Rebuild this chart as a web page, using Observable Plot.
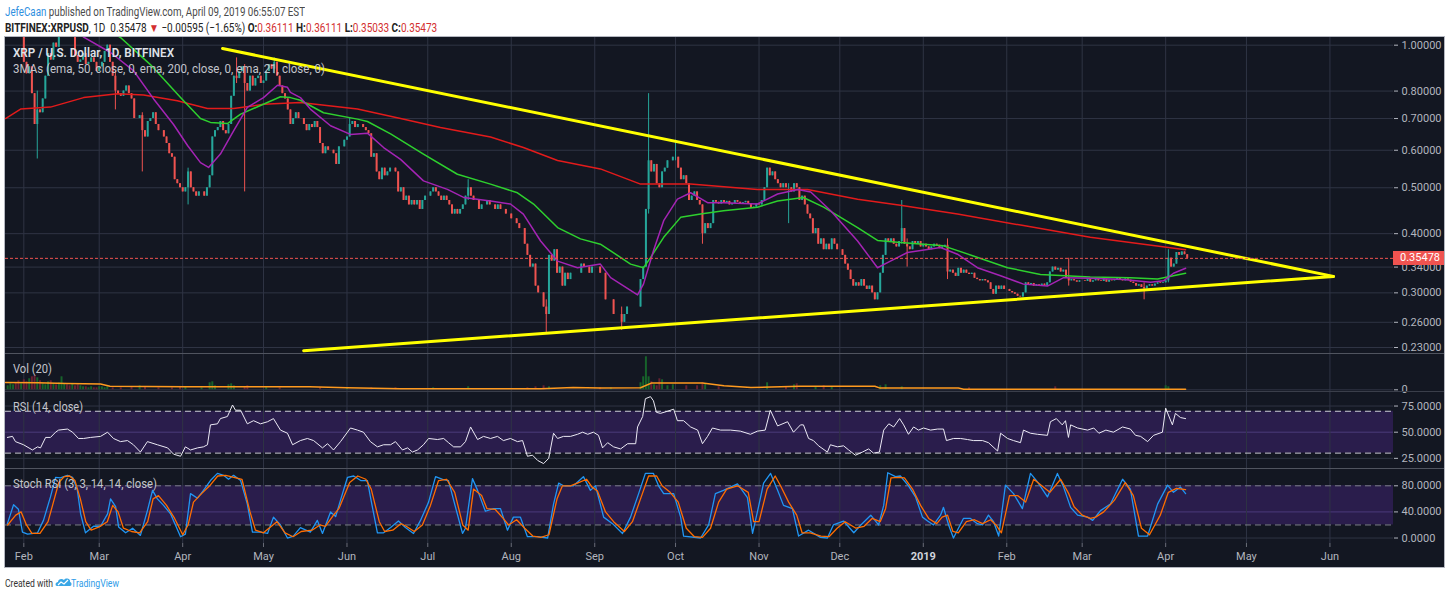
<!DOCTYPE html>
<html><head><meta charset="utf-8">
<script src="https://cdn.jsdelivr.net/npm/d3@7"></script>
<script src="https://cdn.jsdelivr.net/npm/@observablehq/plot@0.6"></script>
<style>
html,body{margin:0;padding:0;background:#fff;}
body{width:1450px;height:599px;position:relative;overflow:hidden;font-family:Roboto,"Open Sans",sans-serif;}
#chart{position:absolute;left:5px;top:37px;width:1439px;height:530px;background:#131722;overflow:hidden;box-shadow:0 0 0 1px #b4b7c0;}
#chart .p{position:absolute;left:0;}
.sep{position:absolute;left:0;width:1439px;height:1px;}
.hl{position:absolute;left:5px;white-space:nowrap;font-size:12px;line-height:14px;transform-origin:0 50%;}
.hl b{font-weight:700;}
.red{color:#d32f2f;}
svg text{font-family:Roboto,"Open Sans",sans-serif;}
</style></head><body>
<div id="h1" class="hl" style="top:5px;color:#4a4a4a" data-w="300"><span style="color:#2f8fe0">JefeCaan</span> published on TradingView.com, April 09, 2019 06:55:07 EST</div>
<div id="h2" class="hl" style="top:21px;color:#222" data-w="432"><b>BITFINEX:XRPUSD</b>, 1D&nbsp; 0.35478 <span class="red">▼</span> −0.00595 (−1.65%) <b>O:</b><span class="red">0.36111</span> <b>H:</b><span class="red">0.36111</span> <b>L:</b><span class="red">0.35033</span> <b>C:</b><span class="red">0.35473</span></div>
<div id="chart"></div>
<svg width="1450" height="30" style="position:absolute;left:0;top:572px">
  <text x="5" y="15" font-size="11.5" textLength="48" lengthAdjust="spacingAndGlyphs" fill="#333">Created with</text>
  <g transform="translate(55,5)">
    <path d="M2 9 C0 9 0 5 3 5 C3 2 7 1 9 3 C11 0 16 2 15 5 C17 5 17 9 15 9 Z" fill="#3aa7e6"/>
    <path d="M3 8 L6 5 L9 7 L13 3" stroke="#fff" stroke-width="1.2" fill="none"/>
  </g>
  <text x="71" y="15" font-size="11.5" textLength="48" lengthAdjust="spacingAndGlyphs" fill="#2f9ce8">TradingView</text>
</svg>
<script>
// fit header lines to their measured widths in the reference
document.querySelectorAll(".hl").forEach(el => {
  const target = +el.dataset.w;
  el.style.transform = `scaleX(${target / el.offsetWidth})`;
});

// ---------------- DATA ----------------
// daily closes (thousandths of USD), BITFINEX XRPUSD
const firstOpen = 1150; // open of 2018-01-26
const jan18 = [1210, 1340, 1420, 1260, 1100, 1130]; // Jan 26-31
const feb18 = [920, 870, 900, 790, 680, 730, 720, 770, 860, 960, 930, 1010, 990, 1100, 1120, 1140, 1120, 1060, 1080, 950, 920, 930, 960, 910, 920, 940, 920, 880];
const mar18 = [900, 920, 970, 1000, 920, 860, 800, 790, 780, 800, 820, 790, 770, 700, 700, 710, 660, 640, 690, 700, 720, 680, 660, 660, 640, 620, 590, 580, 520, 510, 500];
const apr18 = [490, 500, 540, 500, 490, 480, 490, 490, 480, 500, 530, 640, 660, 670, 690, 660, 650, 680, 780, 860, 850, 880, 900, 830, 800, 860, 820, 850, 860, 830];
const may18 = [840, 880, 910, 890, 920, 860, 820, 790, 770, 730, 680, 700, 720, 700, 700, 680, 660, 680, 670, 690, 670, 620, 590, 610, 600, 600, 590, 560, 610, 610, 630];
const jun18 = [640, 680, 690, 670, 680, 680, 670, 660, 650, 580, 590, 540, 520, 550, 530, 540, 550, 550, 540, 490, 500, 470, 480, 460, 470, 460, 470, 450, 470, 480];
const jul18 = [480, 490, 500, 490, 480, 470, 480, 470, 460, 440, 450, 440, 450, 460, 480, 500, 480, 470, 470, 450, 460, 460, 470, 460, 460, 450, 460, 450, 450, 440, 440];
const aug18 = [430, 430, 420, 410, 410, 380, 360, 340, 345, 310, 300, 300, 280, 270, 360, 350, 370, 330, 340, 310, 330, 320, 330, 330, 330, 330, 345, 340, 340, 330, 340];
const sep18 = [340, 340, 330, 330, 290, 290, 290, 270, 270, 270, 260, 270, 280, 280, 280, 280, 280, 320, 340, 450, 570, 540, 560, 510, 500, 540, 550, 570, 570, 580];
const oct18 = [580, 550, 520, 530, 510, 470, 480, 490, 470, 460, 400, 420, 410, 420, 470, 466, 462, 470, 465, 468, 460, 463, 470, 466, 461, 465, 468, 463, 452, 455, 462];
const nov18 = [460, 470, 500, 550, 530, 540, 520, 510, 500, 510, 500, 500, 490, 510, 500, 470, 480, 460, 440, 430, 400, 410, 380, 390, 370, 380, 370, 390, 380, 370];
const dec18 = [370, 360, 345, 335, 320, 310, 315, 310, 320, 310, 305, 310, 300, 290, 300, 330, 360, 390, 385, 390, 380, 375, 385, 410, 380, 375, 370, 385, 380, 385, 375];
const jan19 = [380, 375, 370, 375, 380, 378, 372, 375, 378, 332, 335, 330, 325, 338, 330, 335, 330, 328, 330, 322, 320, 318, 320, 318, 315, 305, 298, 310, 305, 310, 305];
const feb19 = [305, 302, 300, 298, 295, 294, 300, 315, 312, 314, 310, 312, 311, 313, 310, 315, 332, 340, 335, 338, 332, 335, 322, 318, 320, 318, 316, 318];
const mar19 = [318, 317, 320, 316, 318, 320, 318, 317, 320, 316, 319, 318, 320, 322, 320, 318, 321, 319, 316, 314, 310, 312, 308, 306, 310, 312, 310, 313, 315, 314, 315];
const apr19 = [318, 355, 340, 345, 365, 360, 366, 361.11, 354.78];

// notable wicks [date, high, low] (USD)
const wicks = [
  ["2018-02-06", 0.80, 0.575], ["2018-03-07", 0.88, 0.73], ["2018-03-17", 0.72, 0.54],
  ["2018-04-03", 0.55, 0.46], ["2018-04-21", 0.94, 0.83], ["2018-04-24", 0.91, 0.49],
  ["2018-05-05", 0.94, 0.87], ["2018-06-02", 0.70, 0.64], ["2018-07-16", 0.52, 0.47],
  ["2018-08-14", 0.29, 0.247], ["2018-09-11", 0.28, 0.25], ["2018-09-21", 0.79, 0.44],
  ["2018-10-01", 0.63, 0.57], ["2018-10-11", 0.46, 0.38], ["2018-11-12", 0.51, 0.42],
  ["2018-12-24", 0.47, 0.38], ["2018-12-26", 0.39, 0.34], ["2019-01-10", 0.39, 0.32],
  ["2019-02-24", 0.355, 0.31], ["2019-03-24", 0.315, 0.29], ["2019-04-02", 0.37, 0.315]
];

// moving averages: [days since 2018-02-01, price]
const ema200 = [[-6.8,0.70],[-1.2,0.733],[9.9,0.74],[22.2,0.775],[34.8,0.79],[44.5,0.785],[57,0.763],[68.2,0.735],[77.9,0.735],[89,0.75],[102.7,0.757],[123.9,0.733],[139.9,0.70],[154.7,0.67],[173.3,0.64],[185.5,0.608],[198.2,0.571],[214.1,0.548],[229,0.509],[247.6,0.509],[272.4,0.496],[291,0.496],[309.6,0.473],[325.5,0.459],[346.7,0.44],[371.2,0.416],[396,0.393],[431.4,0.370]];
const ema50 = [[28.5,1.10],[35.9,1.038],[47,0.91],[58.2,0.775],[65.6,0.70],[69.3,0.687],[75.6,0.683],[80.5,0.715],[87.9,0.746],[95.3,0.778],[99,0.775],[102.7,0.765],[111.3,0.72],[123.9,0.698],[127.6,0.69],[136.2,0.65],[148.4,0.589],[161,0.534],[173.3,0.509],[183.3,0.488],[189.3,0.462],[198.2,0.412],[206.7,0.39],[214.1,0.38],[217.9,0.368],[225.3,0.345],[230.1,0.339],[232.7,0.356],[237.6,0.393],[243.9,0.433],[251.3,0.44],[259.8,0.447],[272.4,0.455],[279.9,0.469],[289.5,0.477],[297,0.455],[309.6,0.412],[317,0.387],[325.5,0.383],[341.5,0.377],[352.6,0.359],[365.3,0.339],[377.5,0.328],[396,0.324],[410.9,0.323],[421,0.321],[431.4,0.33]];
const ema21 = [[18,1.10],[22.2,1.04],[32.2,0.965],[40.7,0.884],[48.2,0.77],[55.6,0.68],[60.8,0.614],[65.6,0.565],[68.6,0.552],[73,0.589],[77.9,0.659],[83,0.739],[89,0.775],[94.2,0.823],[97.9,0.815],[99,0.795],[102.7,0.775],[106.4,0.733],[113.9,0.676],[121.3,0.648],[127.6,0.652],[133.6,0.608],[139.9,0.574],[148.4,0.517],[157.3,0.496],[163.3,0.477],[173.3,0.469],[180.7,0.462],[185.5,0.44],[191.9,0.386],[198.2,0.35],[205.6,0.339],[214.1,0.345],[217.9,0.323],[227.9,0.297],[230.1,0.313],[233.8,0.368],[237.6,0.426],[242.7,0.473],[247.6,0.488],[253.9,0.465],[259.8,0.465],[272.4,0.462],[279.9,0.485],[287.4,0.496],[292.2,0.49],[299.6,0.447],[309.6,0.386],[317,0.339],[321.8,0.35],[328.1,0.365],[340.4,0.374],[346.7,0.362],[354.1,0.339],[362.7,0.326],[371.2,0.313],[380.1,0.31],[386.1,0.323],[396,0.322],[408.4,0.32],[418.4,0.316],[423.2,0.318],[426.9,0.33],[431.4,0.338]];

// triangle trend lines [days since 2018-02-01, price]
const upperTrend = [[73.8, 0.984], [486.3, 0.325]];
const lowerTrend = [[103.9, 0.2264], [486.3, 0.325]];
const lastPrice = 0.35478;

// volume bars [day, volume] and Vol(20) average
const volBars = [[-6,4],[-5,6],[-4,5],[-3,7],[-2,9],[-1,6],[0,10],[1,8],[2,11],[3,13],[4,14],[5,12],[6,9],[7,6],[8,5],[9,8],[10,9],[11,6],[12,5],[13,7],[14,13],[15,6],[16,5],[17,4],[18,6],[19,4],[20,5],[21,4],[22,3],[23,3],[24,2],[25,3],[26,2],[27,2],[28,3],[29,3],[30,2],[31,3],[33,2],[36,2],[40,3],[43,4],[45,3],[50,2],[55,2],[58,3],[60,3],[66,2],[69,7],[70,8],[71,4],[76,5],[77,6],[78,4],[82,3],[83,4],[90,3],[95,2],[110,2],[120,2],[129,2],[138,2],[152,2],[165,3],[187,2],[190,3],[193,4],[195,3],[214,2],[218,2],[229,7],[230,13],[231,33],[232,13],[233,8],[234,5],[235,4],[236,11],[237,10],[239,4],[241,5],[246,4],[250,4],[252,7],[253,6],[258,3],[276,7],[283,3],[286,5],[287,6],[294,3],[297,4],[300,3],[318,4],[320,5],[326,3],[351,2],[383,3],[424,4],[425,3]];
const volMA = [[-6.8,7.3],[5,7],[16,6.3],[28.5,5.7],[32,3.5],[60,3],[106,3],[120,2],[140,1],[192,1],[204,2.3],[214,1.7],[229,2],[233,6.7],[252,6.7],[260,4],[270,2.3],[288,3.5],[316,3.5],[318,1.7],[347,1.7],[349,0.5],[431.4,0.5]];

// RSI(14) [day, value]
const rsi = [[-6.1,45],[-4.2,46],[-3.1,41],[-0.1,38],[3.2,33],[5.1,36],[6.2,35],[8.1,45],[9.9,45],[11.8,50],[12.9,52],[16.2,53],[18.1,50],[20.3,44],[22.2,44],[24.8,45],[28.5,46],[31.1,50],[33.3,44],[35.9,41],[38.5,42],[40.7,38],[43.3,31],[45.9,41],[49.6,38],[53.4,35],[55.6,29],[58.2,27],[60,36],[61.9,33],[64.5,35],[66.7,36],[68.2,38],[69.3,57],[71.9,58],[73,63],[75.6,65],[77.5,76],[78.6,71],[80.5,71],[83,58],[85.3,61],[87.9,58],[90.5,60],[92.7,63],[95.3,52],[97.9,49],[99.8,38],[102.7,42],[105.3,44],[107.6,42],[110.9,35],[112.8,39],[115,33],[117.6,41],[121.3,54],[123.9,52],[126.1,50],[128.7,41],[131.3,36],[133.6,38],[136.2,38],[138,41],[140.6,33],[142.5,35],[144.3,31],[146.2,33],[148.4,38],[150.3,44],[153.6,43],[155.9,44],[157.7,40],[159.6,36],[162.2,36],[164,41],[165.9,55],[168.5,43],[170.7,46],[173.3,44],[175.9,46],[178.1,42],[180.7,44],[183.3,41],[185.2,42],[187,27],[188.9,28],[190.8,23],[193,20],[194.9,25],[196.7,49],[198.2,44],[200.4,46],[203,46],[205.6,48],[207.5,50],[209.4,48],[211.5,50],[213.4,47],[214.9,35],[216.8,40],[219,36],[221.6,34],[224.2,39],[227.2,39],[227.9,55],[229.8,65],[230.8,82],[232.7,84],[233.8,80],[234.9,69],[236.4,68],[239,70],[241.3,72],[242.7,61],[245,61],[247.6,55],[250.2,52],[252,39],[253.9,46],[255.7,54],[258.7,52],[262.4,52],[266.1,51],[269.8,48],[272.4,51],[275.3,52],[277.2,71],[279.9,56],[283.6,60],[285.8,50],[288.4,57],[289.5,57],[291.4,44],[293.2,42],[295.1,37],[298.4,31],[299.5,38],[302.1,36],[304.4,37],[306.3,33],[308.8,28],[311.4,31],[313.7,34],[315.5,30],[317.7,31],[319.3,52],[321.2,58],[323,55],[325.2,63],[326.7,57],[328.5,48],[330.4,55],[332.2,52],[334.1,54],[336.7,52],[339.3,53],[341.5,53],[342.6,42],[345.2,44],[347.8,44],[350.4,43],[352.6,42],[356,42],[358.2,40],[361.6,32],[362.7,49],[365.3,44],[367.5,42],[370.1,40],[371.2,52],[373.8,49],[376.4,48],[380.1,47],[381.2,60],[383.4,63],[385.6,57],[386.8,61],[387.9,45],[388.7,57],[391.3,54],[395,52],[397.3,54],[399.2,49],[401.8,52],[404.6,50],[408,55],[410.9,53],[412.8,47],[414.7,46],[417.3,41],[419.5,47],[422.8,50],[424,73],[426.5,57],[427.6,68],[429.5,64],[431.4,63]];

// Stoch RSI K (blue) and D (orange) [day, value]
const stochK = [[-6.1,22],[-3.8,51],[-2,44],[-0.5,9],[1.4,6],[5.1,8],[7.3,27],[9.9,63],[11.8,93],[13.6,92],[16.2,96],[18.1,93],[19.9,73],[21.1,37],[22.9,8],[25.9,18],[28.5,18],[31.1,37],[32.2,60],[34.1,48],[35.2,17],[37.8,8],[40.4,15],[43.3,4],[45.9,42],[47.8,73],[49.6,60],[51.9,50],[54.5,37],[56.3,20],[58.2,2],[60,6],[61.9,68],[64.5,61],[66.7,73],[69.3,88],[71.9,99],[74.2,96],[76,90],[77.9,96],[80.5,88],[83,52],[84.9,9],[87.9,9],[90.5,7],[92.7,32],[95.3,20],[97.9,0],[100.1,3],[102.7,16],[106.4,9],[109,27],[110.9,7],[113.9,40],[115.8,33],[117.6,58],[120.2,93],[122.5,95],[125.1,88],[127.6,88],[128.7,63],[131.3,8],[133.6,8],[136.2,16],[139.1,26],[141.7,16],[144.7,7],[147.3,27],[150.3,55],[152.9,94],[155.5,90],[157.7,88],[159.6,58],[162.9,7],[164,15],[166.6,91],[168.5,73],[171.4,41],[174.4,45],[177,45],[179.6,12],[181.8,32],[184.4,32],[187,2],[190.8,2],[194.5,0],[196.7,52],[198.6,84],[200.4,80],[204.1,80],[207.8,94],[210.4,73],[212.3,80],[215.3,32],[218.6,22],[222.3,7],[225.3,32],[228.3,68],[230.8,99],[233.8,99],[235.7,80],[237.6,68],[241.3,68],[243.9,32],[245,3],[251.3,0],[254.3,20],[256.8,68],[259.8,73],[265,83],[268.7,62],[270.6,7],[272.4,40],[274.7,84],[277.3,99],[279.9,73],[282.1,50],[285.4,45],[287.7,3],[291.4,12],[295.8,1],[298.4,0],[300.6,20],[304.4,26],[308.2,8],[310.8,20],[314.5,35],[317.4,20],[319.3,50],[320.8,100],[323.7,94],[325.5,95],[328.5,80],[331.1,63],[333.7,32],[335.6,26],[337.8,20],[340.4,35],[341.5,47],[343.4,20],[345.2,0],[348.9,30],[351.5,30],[354.1,22],[356,20],[358.2,35],[360.1,25],[362,3],[364.5,81],[367.5,68],[370.8,45],[373.8,99],[376.4,86],[380.1,63],[383.8,99],[386.1,78],[388.7,47],[391.3,35],[395,32],[396.9,27],[399.8,42],[403.5,52],[408,90],[410.9,75],[413.9,3],[417.3,3],[421,52],[424.7,81],[426.9,70],[429.5,78],[431.4,68]];
const stochD = [[-6,20],[-3,35],[-1,40],[1,20],[3,7],[6,7],[9,25],[11,55],[13,85],[15,94],[17,95],[19,88],[21,60],[23,25],[25,12],[28,17],[31,25],[33,50],[35,40],[37,15],[40,10],[43,8],[46,25],[48,60],[50,65],[53,50],[56,30],[59,5],[61,20],[63,55],[66,68],[69,80],[72,95],[75,96],[78,93],[81,90],[84,40],[86,12],[89,8],[91,15],[94,25],[97,8],[100,2],[103,10],[107,12],[110,20],[112,18],[115,35],[117,45],[121,85],[124,95],[127,90],[129,75],[132,25],[134,10],[137,12],[140,22],[142,18],[145,10],[148,20],[151,50],[154,88],[157,90],[160,70],[163,20],[165,12],[167,75],[170,65],[172,45],[175,44],[178,30],[180,20],[183,28],[186,15],[189,3],[192,1],[195,5],[198,60],[200,80],[203,80],[206,85],[209,90],[211,78],[213,72],[216,40],[219,25],[223,10],[226,25],[229,60],[232,95],[235,95],[237,80],[240,70],[243,55],[246,15],[249,2],[252,1],[255,15],[258,55],[261,75],[265,80],[269,70],[271,25],[273,25],[276,75],[279,95],[281,80],[284,55],[287,35],[289,8],[292,8],[296,3],[299,2],[302,15],[305,25],[309,15],[312,18],[315,30],[318,25],[320,45],[322,92],[325,93],[327,92],[330,75],[333,50],[336,30],[339,22],[341,32],[343,35],[345,10],[347,8],[350,25],[353,28],[356,22],[359,28],[361,20],[363,8],[366,65],[369,65],[372,55],[375,90],[378,80],[381,70],[385,90],[388,68],[390,48],[393,35],[396,30],[398,32],[401,40],[405,58],[409,85],[412,65],[415,15],[418,5],[422,35],[425,70],[428,76],[431.4,74]];

// axis ticks
const priceTicks = [1.0, 0.8, 0.7, 0.6, 0.5, 0.4, 0.34, 0.3, 0.26, 0.23];
const rsiTicks = [75, 50, 25];
const stochTicks = [80, 40, 0];
const monthLabels = ["Feb","Mar","Apr","May","Jun","Jul","Aug","Sep","Oct","Nov","Dec","2019","Feb","Mar","Apr","May","Jun"];

// ---------------- BUILD ----------------
const DAY = 864e5;
const BASE = Date.UTC(2018, 1, 1);
const at = d => new Date(BASE + d * DAY);
const X_DOMAIN = [at(-6.8), at(508.6)];
const W = 1439, MR = 51;
const GRID = "#2f3444", TXT = "#b2b5be";
const UP = "#26a69a", DOWN = "#ef5350";

const closes = [jan18, feb18, mar18, apr18, may18, jun18, jul18, aug18, sep18, oct18, nov18, dec18, jan19, feb19, mar19, apr19].flat().map(v => v / 1000);
const FIRST_DAY = -6;
const wickMap = new Map(wicks.map(([s, h, l]) => [s, [h, l]]));
const candles = closes.map((c, i) => {
  const o = i === 0 ? firstOpen / 1000 : closes[i - 1];
  const date = at(FIRST_DAY + i);
  const w = wickMap.get(date.toISOString().slice(0, 10));
  return {date, day: FIRST_DAY + i, open: o, close: c,
    high: w ? Math.max(w[0], o, c) : Math.max(o, c),
    low: w ? Math.min(w[1], o, c) : Math.min(o, c), up: c >= o};
});
const upByDay = new Map(candles.map(d => [d.day, d.up]));
const pts = arr => arr.map(([d, v]) => ({date: at(d), v}));
const months = monthLabels.map((label, i) => ({date: new Date(Date.UTC(2018, 1 + i, 1)), label}));
const monthDates = months.map(m => m.date);

const chart = document.getElementById("chart");
function place(el, top) { el.classList.add("p"); el.style.top = top + "px"; chart.appendChild(el); return el; }
const baseOpts = (h) => ({
  width: W, height: h, marginLeft: 0, marginRight: MR, marginTop: 0, marginBottom: 0,
  x: {type: "utc", domain: X_DOMAIN, axis: null},
  style: {background: "transparent", color: TXT, fontSize: "11px", fontFamily: "Roboto, sans-serif", overflow: "visible"}
});

// price panel
const priceH = 316;
const pricePlot = Plot.plot({
  ...baseOpts(priceH),
  y: {type: "log", domain: [0.2234, 1.038], axis: null},
  marks: [
    Plot.gridY(priceTicks, {stroke: GRID, strokeOpacity: 1}),
    Plot.gridX(monthDates, {stroke: GRID, strokeOpacity: 1}),
    Plot.ruleX(candles, {x: "date", y1: "low", y2: "high", stroke: d => d.up ? UP : DOWN, strokeWidth: 1, clip: true}),
    Plot.ruleX(candles, {x: "date", y1: "open", y2: "close", stroke: d => d.up ? UP : DOWN, strokeWidth: 2, clip: true}),
    Plot.line(pts(ema200), {x: "date", y: "v", stroke: "#e31b1b", strokeWidth: 1.5, clip: true}),
    Plot.line(pts(ema50), {x: "date", y: "v", stroke: "#2ed02e", strokeWidth: 1.5, clip: true}),
    Plot.line(pts(ema21), {x: "date", y: "v", stroke: "#a424b4", strokeWidth: 1.5, clip: true}),
    Plot.line(pts(upperTrend), {x: "date", y: "v", stroke: "#ffff00", strokeWidth: 3, clip: true}),
    Plot.line(pts(lowerTrend), {x: "date", y: "v", stroke: "#ffff00", strokeWidth: 3, clip: true}),
    Plot.ruleY([lastPrice], {stroke: "#ef5350", strokeDasharray: "3,2", strokeWidth: 1}),
    Plot.axisY(priceTicks, {anchor: "right", tickFormat: d => d.toFixed(5), tickSize: 4, tickPadding: 4, label: null})
  ]
});
place(pricePlot, 0);
const py = pricePlot.scale("y").apply(lastPrice);
const tag = document.createElement("div");
tag.textContent = lastPrice.toFixed(5);
Object.assign(tag.style, {position: "absolute", left: (W - MR) + "px", top: (py - 7) + "px", width: MR + "px", height: "14px",
  background: "#ef5350", color: "#fff", font: "11px Roboto, sans-serif", lineHeight: "14px", paddingLeft: "7px", boxSizing: "border-box"});
chart.appendChild(tag);

// volume panel
const volPlot = Plot.plot({
  ...baseOpts(38),
  y: {domain: [-1.7, 36.3], axis: null},
  marks: [
    Plot.gridY([0], {stroke: GRID, strokeOpacity: 1}),
    Plot.gridX(monthDates, {stroke: GRID, strokeOpacity: 1}),
    Plot.ruleX(volBars, {x: d => at(d[0]), y1: () => 0, y2: d => d[1], stroke: d => upByDay.get(d[0]) ? "#17632b" : "#682233", strokeWidth: 2}),
    Plot.line(pts(volMA), {x: "date", y: "v", stroke: "#ff9a1f", strokeWidth: 1.5}),
    Plot.axisY([0], {anchor: "right", tickFormat: d => String(d), tickSize: 4, tickPadding: 4, label: null})
  ]
});
place(volPlot, 316);

// RSI panel
const BAND = "#2a1d4c";
const rsiPlot = Plot.plot({
  ...baseOpts(77),
  y: {domain: [15.3, 88.9], axis: null},
  marks: [
    Plot.gridY(rsiTicks, {stroke: GRID, strokeOpacity: 1}),
    Plot.rect([{a: X_DOMAIN[0], b: X_DOMAIN[1], lo: 30, hi: 70}], {x1: "a", x2: "b", y1: "lo", y2: "hi", fill: BAND}),
    Plot.ruleY([50], {stroke: "#4b3a7a", strokeWidth: 1}),
    Plot.gridX(monthDates, {stroke: GRID, strokeOpacity: 1}),
    Plot.ruleY([30, 70], {stroke: "#c9cad3", strokeDasharray: "6,4", strokeWidth: 1}),
    Plot.line(pts(rsi), {x: "date", y: "v", stroke: "#eceaf5", strokeWidth: 1, clip: true}),
    Plot.axisY(rsiTicks, {anchor: "right", tickFormat: d => d.toFixed(4), tickSize: 4, tickPadding: 4, label: null})
  ]
});
place(rsiPlot, 354);

// Stoch RSI panel
const stochPlot = Plot.plot({
  ...baseOpts(75),
  y: {domain: [-8.4, 106.5], axis: null},
  marks: [
    Plot.gridY(stochTicks, {stroke: GRID, strokeOpacity: 1}),
    Plot.rect([{a: X_DOMAIN[0], b: X_DOMAIN[1], lo: 20, hi: 80}], {x1: "a", x2: "b", y1: "lo", y2: "hi", fill: BAND}),
    Plot.ruleY([40], {stroke: "#4b3a7a", strokeWidth: 1}),
    Plot.gridX(monthDates, {stroke: GRID, strokeOpacity: 1}),
    Plot.ruleY([20, 80], {stroke: "#7d7f8a", strokeDasharray: "6,4", strokeWidth: 1}),
    Plot.line(pts(stochK), {x: "date", y: "v", stroke: "#2196f3", strokeWidth: 1.3, clip: true}),
    Plot.line(pts(stochD), {x: "date", y: "v", stroke: "#ff6d00", strokeWidth: 1.3, clip: true}),
    Plot.axisY(stochTicks, {anchor: "right", tickFormat: d => d.toFixed(4), tickSize: 4, tickPadding: 4, label: null})
  ]
});
place(stochPlot, 431);

// time axis strip
const axisPlot = Plot.plot({
  ...baseOpts(24),
  y: {domain: [0, 24], range: [0, 24], axis: null},
  marks: [
    Plot.ruleX(months, {x: "date", y1: () => 0, y2: () => 4, stroke: "#6a6d78"}),
    Plot.text(months.filter(m => m.label !== "2019"), {x: "date", y: () => 13, text: "label", fill: TXT, fontSize: 11}),
    Plot.text(months.filter(m => m.label === "2019"), {x: "date", y: () => 13, text: "label", fill: "#d1d4dc", fontSize: 11, fontWeight: "bold"})
  ]
});
place(axisPlot, 506);

// panel separators
[[316, "#50545f"], [354, "#3a3e4a"], [431, "#50545f"]].forEach(([t, c]) => {
  const s = document.createElement("div"); s.className = "sep";
  s.style.top = t + "px"; s.style.background = c; chart.appendChild(s);
});

// legends inside chart
const ns = "http://www.w3.org/2000/svg";
const ov = document.createElementNS(ns, "svg");
ov.setAttribute("width", W); ov.setAttribute("height", 530);
ov.style.cssText = "position:absolute;left:0;top:0;pointer-events:none";
[
  ["XRP / U.S. Dollar, 1D, BITFINEX", 8, 20, 161, "#dfe1e8", 600, 12.5],
  ["3MAs (ema, 50, close, 0, ema, 200, close, 0, ema, 21, close, 0)", 8, 36, 312, "#c3c5cc", 400, 12],
  ["Vol (20)", 8, 336, 39, "#c3c5cc", 400, 12],
  ["RSI (14, close)", 8, 374, 70, "#c3c5cc", 400, 12],
  ["Stoch RSI (3, 3, 14, 14, close)", 8, 451, 144, "#c3c5cc", 400, 12]
].forEach(([s, x, y, len, fill, fw, fs]) => {
  const t = document.createElementNS(ns, "text");
  t.textContent = s;
  t.setAttribute("x", x); t.setAttribute("y", y);
  t.setAttribute("textLength", len); t.setAttribute("lengthAdjust", "spacingAndGlyphs");
  t.setAttribute("fill", fill); t.setAttribute("font-weight", fw); t.setAttribute("font-size", fs);
  ov.appendChild(t);
});
chart.appendChild(ov);
</script>
</body></html>
